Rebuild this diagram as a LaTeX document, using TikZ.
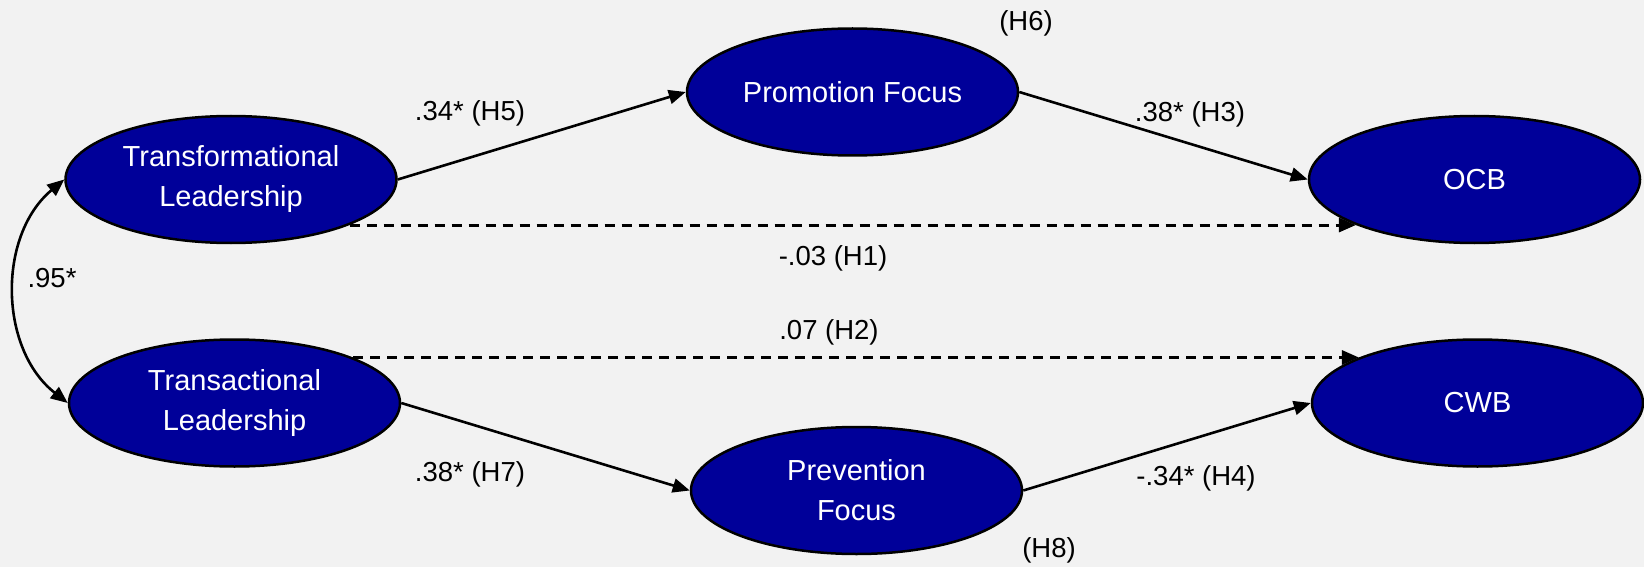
\documentclass[tikz,border=0pt]{standalone}
\usepackage{fontspec}
\setmainfont{Liberation Sans}
\usetikzlibrary{shapes.geometric,arrows.meta}
\definecolor{bgc}{RGB}{242,242,242}
\definecolor{nodeblue}{RGB}{0,0,153}
\tikzset{
  latent/.style={ellipse, draw=black, line width=2.5pt, fill=nodeblue, text=white,
    minimum width=331pt, minimum height=127pt, inner sep=0pt, align=center,
    font=\fontsize{29}{40}\selectfont},
  lbl/.style={font=\fontsize{27.5}{33}\selectfont, text=black, inner sep=0pt},
  path/.style={line width=2.6pt, -{Triangle[length=17pt,width=14pt]}},
  dpath/.style={path, line width=3pt, dash pattern=on 10pt off 7pt},
}
\begin{document}
\begin{tikzpicture}[x=1pt,y=-1pt]
\fill[bgc] (0,0) rectangle (1644,567);
\useasboundingbox (0,0) rectangle (1644,567);
\node[latent] (TL) at (231,179.5) {Transformational\\Leadership};
\node[latent] (TA) at (234.5,403) {Transactional\\Leadership};
\node[latent] (PF) at (852.5,92) {Promotion Focus};
\node[latent] (PV) at (856.5,490.5) {Prevention\\Focus};
\node[latent] (OCB) at (1474.5,179.5) {OCB};
\node[latent] (CWB) at (1477.5,403) {CWB};
\draw[path] (TL.east) -- (PF.west);
\draw[path] (PF.east) -- (OCB.west);
\draw[path] (TA.east) -- (PV.west);
\draw[path] (PV.east) -- (CWB.west);
\draw[dpath] (TL.-21) -- (OCB.201);
\draw[dpath] (TA.21) -- (CWB.159);
\draw[line width=2.6pt, {Triangle[length=17pt,width=14pt]}-{Triangle[length=17pt,width=14pt]}]
  (TL.west) to[bend right=51] (TA.west);
\node[lbl] (l95) at (52,278) {.95*};
\node[lbl] (l5) at (470,113) {.34* (H5)};
\node[lbl] (l3) at (1190,114) {.38* (H3)};
\node[lbl] (l7) at (470,474) {.38* (H7)};
\node[lbl] (l4) at (1196,478) {-.34* (H4)};
\node[lbl] (l1) at (833,258) {-.03 (H1)};
\node[lbl] (l2) at (829,332) {.07 (H2)};
\node[lbl] (l6) at (1026,23) {(H6)};
\node[lbl] (l8) at (1049,550) {(H8)};
\end{tikzpicture}
\end{document}
